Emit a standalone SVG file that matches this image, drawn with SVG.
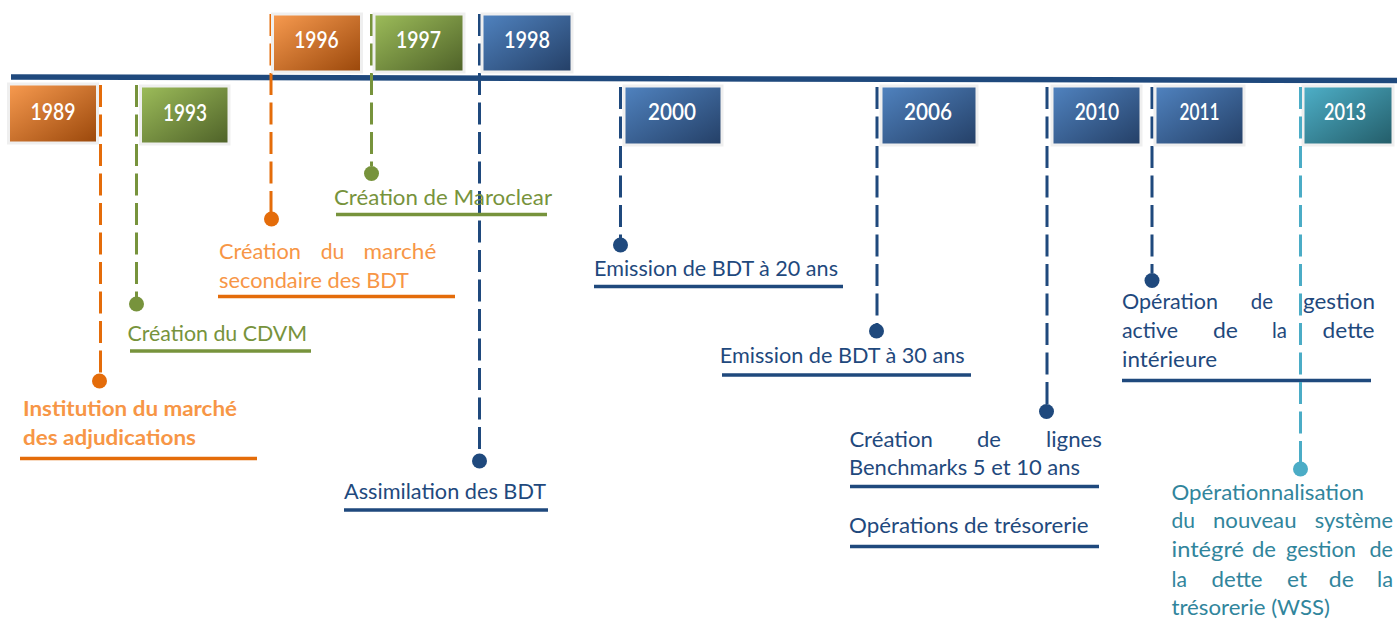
<svg xmlns="http://www.w3.org/2000/svg" width="1397" height="623" viewBox="0 0 1397 623">
<defs>
<linearGradient id="gO" x1="0" y1="0" x2="1" y2="1"><stop offset="0" stop-color="#F89B50"/><stop offset="1" stop-color="#9A470A"/></linearGradient>
<linearGradient id="gG" x1="0" y1="0" x2="1" y2="1"><stop offset="0" stop-color="#9DBD5A"/><stop offset="1" stop-color="#4E6128"/></linearGradient>
<linearGradient id="gB" x1="0" y1="0" x2="1" y2="1"><stop offset="0" stop-color="#5083C0"/><stop offset="1" stop-color="#243F66"/></linearGradient>
<linearGradient id="gT" x1="0" y1="0" x2="1" y2="1"><stop offset="0" stop-color="#4EB0C9"/><stop offset="1" stop-color="#235C68"/></linearGradient>
</defs>
<style>
.box{stroke:#EFEFEF;stroke-width:3}
.yr{font-family:Lato,"Liberation Sans",sans-serif;font-weight:600;font-size:22px;fill:#FFFFFF;text-anchor:middle}
.lbl{font-family:Lato,"Liberation Sans",sans-serif;font-size:21px}
.dash{fill:none;stroke-width:3;stroke-dasharray:22 7.5}
.ul{stroke-width:3.5;fill:none}
.o{fill:#F79646}.oS{stroke:#E46C0A}.oF{fill:#E46C0A}
.g{fill:#77933C}.gS{stroke:#77933C}
.b{fill:#1F497D}.bS{stroke:#1F497D}
.t{fill:#31859C}.tS{stroke:#4BACC6}.tF{fill:#4BACC6}
</style>
<rect width="1397" height="623" fill="#FFFFFF"/>
<g id="connectors">
<line x1="11" y1="77" x2="1397" y2="80.5" stroke="#1F497D" stroke-width="5.5"/>
<path class="dash oS" d="M100.5 85V374"/>
<path class="dash gS" d="M136.5 85V297"/>
<path class="dash oS" d="M271 14V212"/>
<path class="dash gS" d="M371.5 14V166"/>
<path class="dash bS" d="M479.5 14V454"/>
<path class="dash bS" d="M620.5 87V238"/>
<path class="dash bS" d="M877 87V324"/>
<path class="dash bS" d="M1047 87V404"/>
<path class="dash bS" d="M1152 87V273"/>
</g>
<g id="node-1989">
<rect class="box" x="8.5" y="84" width="89" height="59" fill="url(#gO)"/>
<text class="yr" x="53" y="120" textLength="45" lengthAdjust="spacingAndGlyphs">1989</text>
<circle class="oF" cx="99.5" cy="381" r="7.5"/>
<text class="lbl o" font-weight="bold"><tspan x="23" y="415.5" textLength="214" lengthAdjust="spacingAndGlyphs">Institution du marché</tspan><tspan x="23" y="445" textLength="173" lengthAdjust="spacingAndGlyphs">des adjudications</tspan></text>
<line class="ul oS" x1="20" y1="458.5" x2="257" y2="458.5"/>
</g>
<g id="node-1993">
<rect class="box" x="140.5" y="86" width="88.5" height="58" fill="url(#gG)"/>
<text class="yr" x="185" y="121" textLength="44" lengthAdjust="spacingAndGlyphs">1993</text>
<circle class="g" cx="136.5" cy="304" r="7.5"/>
<text class="lbl g" x="127.5" y="341" textLength="179.5" lengthAdjust="spacingAndGlyphs">Création du CDVM</text>
<line class="ul gS" x1="130" y1="351" x2="311" y2="351"/>
</g>
<g id="node-1996">
<rect class="box" x="272.5" y="14" width="89" height="58" fill="url(#gO)"/>
<text class="yr" x="316.5" y="48" textLength="44.5" lengthAdjust="spacingAndGlyphs">1996</text>
<circle class="oF" cx="271.5" cy="219" r="7.5"/>
<text class="lbl o"><tspan x="219" y="259" textLength="82" lengthAdjust="spacingAndGlyphs">Création</tspan><tspan x="320.7" y="259" textLength="23.7" lengthAdjust="spacingAndGlyphs">du</tspan><tspan x="363.6" y="259" textLength="72.7" lengthAdjust="spacingAndGlyphs">marché</tspan><tspan x="219" y="288" textLength="190" lengthAdjust="spacingAndGlyphs">secondaire des BDT</tspan></text>
<line class="ul oS" x1="218" y1="296.5" x2="455" y2="296.5"/>
</g>
<g id="node-1997">
<rect class="box" x="374" y="14" width="90" height="58" fill="url(#gG)"/>
<text class="yr" x="418.5" y="48" textLength="45" lengthAdjust="spacingAndGlyphs">1997</text>
<circle class="g" cx="371.5" cy="173.5" r="7.5"/>
<text class="lbl g" x="334" y="205" textLength="218" lengthAdjust="spacingAndGlyphs">Création de Maroclear</text>
<line class="ul gS" x1="336" y1="214.5" x2="547" y2="214.5"/>
</g>
<g id="node-1998">
<rect class="box" x="482" y="14" width="90" height="58" fill="url(#gB)"/>
<text class="yr" x="527" y="48" textLength="46" lengthAdjust="spacingAndGlyphs">1998</text>
<circle class="b" cx="479.5" cy="461" r="7.5"/>
<text class="lbl b" x="344" y="499" textLength="202" lengthAdjust="spacingAndGlyphs">Assimilation des BDT</text>
<line class="ul bS" x1="344" y1="510" x2="548" y2="510"/>
</g>
<g id="node-2000">
<rect class="box" x="624" y="86" width="98" height="59" fill="url(#gB)"/>
<text class="yr" x="672" y="120" textLength="48" lengthAdjust="spacingAndGlyphs">2000</text>
<circle class="b" cx="620.5" cy="245" r="7.5"/>
<text class="lbl b" x="594" y="276" textLength="244" lengthAdjust="spacingAndGlyphs">Emission de BDT à 20 ans</text>
<line class="ul bS" x1="594" y1="286.5" x2="843" y2="286.5"/>
</g>
<g id="node-2006">
<rect class="box" x="881" y="86" width="96" height="59" fill="url(#gB)"/>
<text class="yr" x="928" y="120" textLength="48" lengthAdjust="spacingAndGlyphs">2006</text>
<circle class="b" cx="876.5" cy="331" r="7.5"/>
<text class="lbl b" x="719.7" y="363" textLength="245" lengthAdjust="spacingAndGlyphs">Emission de BDT à 30 ans</text>
<line class="ul bS" x1="722" y1="375" x2="971" y2="375"/>
</g>
<g id="node-2010">
<rect class="box" x="1052" y="86" width="89" height="59" fill="url(#gB)"/>
<text class="yr" x="1097" y="120" textLength="44.5" lengthAdjust="spacingAndGlyphs">2010</text>
<circle class="b" cx="1046.5" cy="411.5" r="7.5"/>
<text class="lbl b"><tspan x="849.4" y="446.5" textLength="83.4" lengthAdjust="spacingAndGlyphs">Création</tspan><tspan x="977" y="446.5" textLength="24" lengthAdjust="spacingAndGlyphs">de</tspan><tspan x="1046" y="446.5" textLength="56" lengthAdjust="spacingAndGlyphs">lignes</tspan><tspan x="849" y="475" textLength="231" lengthAdjust="spacingAndGlyphs">Benchmarks 5 et 10 ans</tspan></text>
<line class="ul bS" x1="850" y1="486.5" x2="1099" y2="486.5"/>
<text class="lbl b" x="849" y="533" textLength="239.6" lengthAdjust="spacingAndGlyphs">Opérations de trésorerie</text>
<line class="ul bS" x1="850" y1="546.5" x2="1099" y2="546.5"/>
</g>
<g id="node-2011">
<rect class="box" x="1155" y="86" width="89" height="59" fill="url(#gB)"/>
<text class="yr" x="1199.5" y="120" textLength="40" lengthAdjust="spacingAndGlyphs">2011</text>
<circle class="b" cx="1152" cy="280.5" r="7.5"/>
<text class="lbl b"><tspan x="1122" y="309" textLength="96" lengthAdjust="spacingAndGlyphs">Opération</tspan><tspan x="1250.7" y="309" textLength="22.3" lengthAdjust="spacingAndGlyphs">de</tspan><tspan x="1303" y="309" textLength="72" lengthAdjust="spacingAndGlyphs">gestion</tspan><tspan x="1122" y="338" textLength="56" lengthAdjust="spacingAndGlyphs">active</tspan><tspan x="1213" y="338" textLength="25" lengthAdjust="spacingAndGlyphs">de</tspan><tspan x="1272" y="338" textLength="15" lengthAdjust="spacingAndGlyphs">la</tspan><tspan x="1322.6" y="338" textLength="52" lengthAdjust="spacingAndGlyphs">dette</tspan><tspan x="1122" y="366.7" textLength="95" lengthAdjust="spacingAndGlyphs">intérieure</tspan></text>
<line class="ul bS" x1="1122" y1="380.5" x2="1371" y2="380.5"/>
</g>
<g id="node-2013">
<rect class="box" x="1303" y="86" width="90" height="59" fill="url(#gT)"/>
<text class="yr" x="1345" y="120" textLength="42" lengthAdjust="spacingAndGlyphs">2013</text>
<path class="dash tS" d="M1300.5 87V462"/>
<circle class="tF" cx="1300.5" cy="469" r="7.5"/>
<text class="lbl t"><tspan x="1171.5" y="500" textLength="192.5" lengthAdjust="spacingAndGlyphs">Opérationnalisation</tspan><tspan x="1171.5" y="528" textLength="23.5" lengthAdjust="spacingAndGlyphs">du</tspan><tspan x="1213" y="528" textLength="83.5" lengthAdjust="spacingAndGlyphs">nouveau</tspan><tspan x="1314.7" y="528" textLength="78.3" lengthAdjust="spacingAndGlyphs">système</tspan><tspan x="1171.5" y="557" textLength="72.5" lengthAdjust="spacingAndGlyphs">intégré</tspan><tspan x="1252" y="557" textLength="24" lengthAdjust="spacingAndGlyphs">de</tspan><tspan x="1286" y="557" textLength="70" lengthAdjust="spacingAndGlyphs">gestion</tspan><tspan x="1369.5" y="557" textLength="23.5" lengthAdjust="spacingAndGlyphs">de</tspan><tspan x="1171.5" y="586.5" textLength="15.5" lengthAdjust="spacingAndGlyphs">la</tspan><tspan x="1211.6" y="586.5" textLength="51" lengthAdjust="spacingAndGlyphs">dette</tspan><tspan x="1287" y="586.5" textLength="20" lengthAdjust="spacingAndGlyphs">et</tspan><tspan x="1328.8" y="586.5" textLength="25" lengthAdjust="spacingAndGlyphs">de</tspan><tspan x="1377" y="586.5" textLength="16" lengthAdjust="spacingAndGlyphs">la</tspan><tspan x="1171.5" y="615" textLength="158.5" lengthAdjust="spacingAndGlyphs">trésorerie (WSS)</tspan></text>
</g>
</svg>
